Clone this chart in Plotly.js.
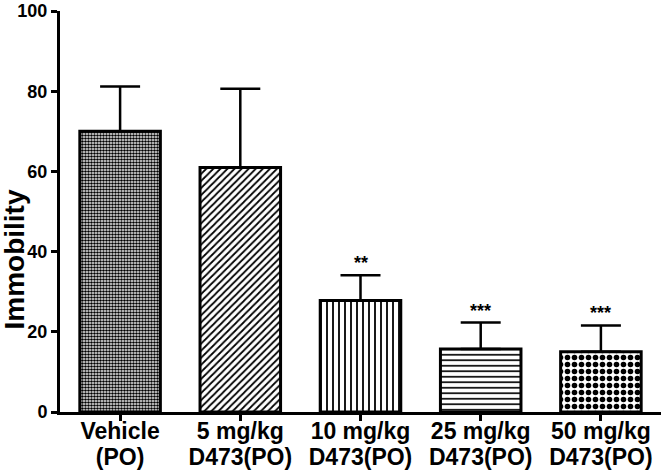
<!DOCTYPE html>
<html>
<head>
<meta charset="utf-8">
<script src="https://cdn.plot.ly/plotly-3.0.1.min.js"></script>
<style>html,body{margin:0;padding:0;background:#fff;}#chart{width:666px;height:472px;}</style>
</head>
<body>
<div id="chart"></div>
<script>
const categories = ["Vehicle (PO)", "5 mg/kg D473(PO)", "10 mg/kg D473(PO)", "25 mg/kg D473(PO)", "50 mg/kg D473(PO)"];
const labelLine1 = ["Vehicle", "5 mg/kg", "10 mg/kg", "25 mg/kg", "50 mg/kg"];
const labelLine2 = ["(PO)", "D473(PO)", "D473(PO)", "D473(PO)", "D473(PO)"];
const immobility = [70, 61, 27.8, 15.7, 15.0];
const sem = [11.2, 19.6, 6.3, 6.6, 6.6];
const significance = ["", "", "**", "***", "***"];
const yTicks = [0, 20, 40, 60, 80, 100];

const patternShapes = [".", "/", "|", "-", "."];
const patternSizes = [3, 5, 6, 5.5, 7];
const patternSolidity = [0.6, 0.35, 0.3, 0.3, 0.5];

const font = {family: "Arial, 'Liberation Sans', sans-serif", color: "#000", weight: "bold"};
const idx = categories.map((c, i) => i);

const trace = {
  type: "bar",
  x: idx,
  y: immobility,
  width: 0.67,
  marker: {
    color: "#fff",
    line: {color: "#000", width: 3},
    pattern: {shape: patternShapes, size: patternSizes, solidity: patternSolidity, fgcolor: "#000", bgcolor: "#fff", fillmode: "replace"}
  },
  error_y: {type: "data", array: sem, arrayminus: sem.map(() => 0), symmetric: false, color: "#000", thickness: 2.5, width: 20},
  hoverinfo: "none"
};

const annotations = idx.map(i => ({
  x: i, y: immobility[i] + sem[i], text: significance[i], showarrow: false,
  yanchor: "bottom", yshift: 0, font: Object.assign({}, font, {size: 18})
})).filter(a => a.text);

annotations.push({
  xref: "paper", yref: "paper", x: -0.075, y: 0.38, xanchor: "center", yanchor: "middle",
  text: "Immobility", textangle: -90, showarrow: false,
  font: Object.assign({}, font, {size: 28})
});

const labelFont = Object.assign({}, font, {size: 23});
const layout = {
  width: 666, height: 472,
  margin: {l: 60, r: 5, t: 11, b: 60},
  paper_bgcolor: "#fff", plot_bgcolor: "#fff",
  showlegend: false,
  font: font,
  xaxis: {
    range: [-0.5, 4.5], tickvals: idx, showticklabels: false,
    showline: true, linecolor: "#000", linewidth: 3,
    ticks: "outside", ticklen: 6, tickwidth: 3, tickcolor: "#000",
    showgrid: false, zeroline: false, fixedrange: true
  },
  xaxis2: {
    overlaying: "x", anchor: "y", side: "bottom",
    range: [-0.5, 4.5], tickvals: idx, ticktext: labelLine1,
    showline: false, ticks: "", ticklabelstandoff: 3, tickfont: labelFont,
    showgrid: false, zeroline: false
  },
  xaxis3: {
    overlaying: "x", anchor: "y", side: "bottom",
    range: [-0.5, 4.5], tickvals: idx, ticktext: labelLine2,
    showline: false, ticks: "outside", ticklen: 24, tickcolor: "rgba(0,0,0,0)", tickfont: labelFont,
    showgrid: false, zeroline: false
  },
  yaxis: {
    range: [0, 100], tickvals: yTicks,
    showline: true, linecolor: "#000", linewidth: 3,
    ticks: "outside", ticklen: 6, tickwidth: 3, tickcolor: "#000",
    tickfont: Object.assign({}, font, {size: 18}),
    showgrid: false, zeroline: false
  },
  annotations: annotations
};

const helper2 = {type: "scatter", x: idx, y: immobility, xaxis: "x2", yaxis: "y", mode: "none", hoverinfo: "none", showlegend: false};
const helper3 = {type: "scatter", x: idx, y: immobility, xaxis: "x3", yaxis: "y", mode: "none", hoverinfo: "none", showlegend: false};

Plotly.newPlot("chart", [trace, helper2, helper3], layout, {staticPlot: true, displayModeBar: false});
</script>
</body>
</html>
